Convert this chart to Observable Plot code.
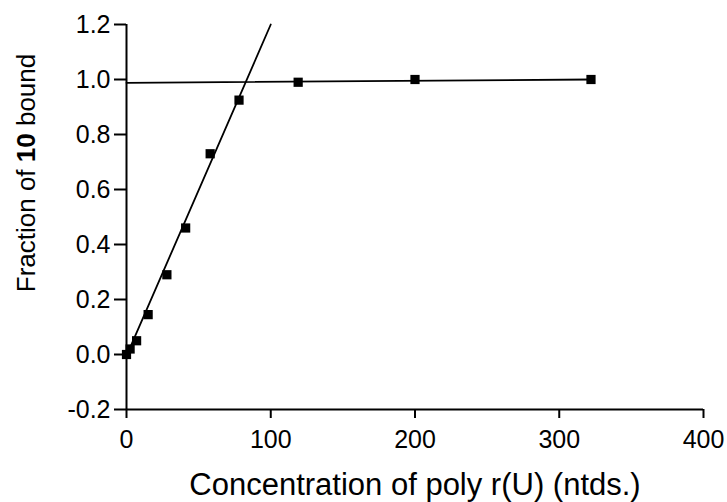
<!DOCTYPE html>
<html>
<head>
<meta charset="utf-8">
<script src="https://cdn.jsdelivr.net/npm/d3@7"></script>
<script src="https://cdn.jsdelivr.net/npm/@observablehq/plot@0.6"></script>
<style>
  html, body { margin: 0; padding: 0; background: #fff; }
  #chart svg { font-family: "Liberation Sans", Arial, sans-serif; }
</style>
</head>
<body>
<div id="chart"></div>
<script>
// Measured data points
const concentration = [0, 2.5, 7, 15, 28, 41, 58, 78, 119, 200, 322];
const fractionBound = [0, 0.02, 0.05, 0.145, 0.29, 0.46, 0.73, 0.925, 0.99, 1.0, 1.0];

// Fitted lines (endpoints)
const riseLineX = [0, 100];
const riseLineY = [-0.005, 1.2];
const plateauLineX = [0, 322];
const plateauLineY = [0.988, 1.0];

// Axes
const xTicks = [0, 100, 200, 300, 400];
const yTicks = [-0.2, 0, 0.2, 0.4, 0.6, 0.8, 1.0, 1.2];
const xTitle = "Concentration of poly r(U) (ntds.)";
const yTitle = "Fraction of 10 bound";

const points = concentration.map((c, i) => ({x: c, y: fractionBound[i]}));
const rise = riseLineX.map((c, i) => ({x: c, y: riseLineY[i]}));
const plateau = plateauLineX.map((c, i) => ({x: c, y: plateauLineY[i]}));

const chart = Plot.plot({
  width: 727,
  height: 502,
  marginLeft: 126,
  marginRight: 24,
  marginTop: 24,
  marginBottom: 93,
  style: {background: "#fff", color: "#000"},
  x: {domain: [0, 400]},
  y: {domain: [-0.2, 1.2]},
  marks: [
    Plot.ruleY([-0.2], {x1: 0, x2: 400, stroke: "#000", strokeWidth: 2}),
    Plot.ruleX([0], {y1: -0.2, y2: 1.2, stroke: "#000", strokeWidth: 2}),
    Plot.axisX({ticks: xTicks, tickSize: 9, tickPadding: 12, tickFormat: d => String(d),
      fontSize: 25, label: null, strokeWidth: 2}),
    Plot.axisY({ticks: yTicks, tickSize: 12, tickPadding: 4, tickFormat: d => d.toFixed(1),
      fontSize: 25, label: null, strokeWidth: 2}),
    Plot.line(rise, {x: "x", y: "y", stroke: "#000", strokeWidth: 1.8}),
    Plot.line(plateau, {x: "x", y: "y", stroke: "#000", strokeWidth: 1.8}),
    Plot.dot(points, {x: "x", y: "y", symbol: "square", r: 5.2, fill: "#000", stroke: "none"}),
    Plot.text([xTitle], {frameAnchor: "bottom", dy: 85, lineAnchor: "bottom",
      fontSize: 31, fill: "#000"}),
    Plot.text([yTitle], {frameAnchor: "left", dx: -92, dy: -44, rotate: -90,
      lineAnchor: "bottom", textAnchor: "middle", fontSize: 26, fill: "#000"})
  ]
});

// Make "10" bold in the y-axis title
chart.querySelectorAll("text").forEach(t => {
  if (t.textContent === yTitle) {
    const parts = ["Fraction of ", "10", " bound"];
    t.textContent = "";
    parts.forEach((p, i) => {
      const ts = document.createElementNS("http://www.w3.org/2000/svg", "tspan");
      ts.textContent = p;
      if (i === 1) ts.setAttribute("font-weight", "bold");
      t.appendChild(ts);
    });
    t.setAttribute("xml:space", "preserve");
    t.style.whiteSpace = "pre";
  }
});

document.getElementById("chart").appendChild(chart);
</script>
</body>
</html>
